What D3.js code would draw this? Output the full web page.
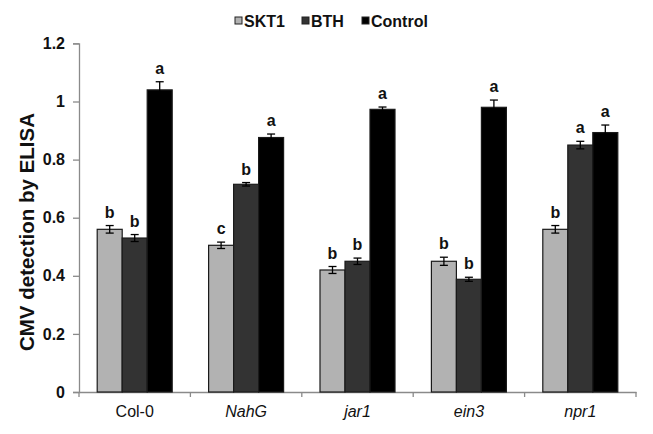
<!DOCTYPE html>
<html><head><meta charset="utf-8">
<script src="https://cdn.jsdelivr.net/npm/d3@7"></script>
<style>body{margin:0;background:#fff}svg{display:block}</style>
</head><body>
<svg id="c" width="653" height="434"></svg>
<script>
const categories = ["Col-0","NahG","jar1","ein3","npr1"];
const italicCats = [false,true,true,true,true];
const seriesNames = ["SKT1","BTH","Control"];
const skt1 = [0.56,0.505,0.42,0.45,0.56];
const bth = [0.53,0.715,0.45,0.388,0.85];
const control = [1.04,0.876,0.973,0.98,0.893];
const skt1Err = [0.013,0.011,0.012,0.014,0.013];
const bthErr = [0.012,0.006,0.011,0.007,0.013];
const controlErr = [0.028,0.012,0.008,0.025,0.026];
const skt1Letters = ["b","c","b","b","b"];
const bthLetters = ["b","b","b","b","a"];
const controlLetters = ["a","a","a","a","a"];
const yTicks = [0,0.2,0.4,0.6,0.8,1,1.2];
const colors = ["#b2b2b2","#333333","#000000"];

(function(){
const values = [skt1,bth,control];
const errs = [skt1Err,bthErr,controlErr];
const letters = [skt1Letters,bthLetters,controlLetters];

const svg = d3.select("#c");
const mLeft = 79, mRight = 636, mTop = 43.4, mBottom = 392;
const x0 = d3.scaleBand().domain(categories).range([mLeft,mRight]).paddingInner(0).paddingOuter(0);
const groupW = 75;
const x1 = d3.scaleBand().domain(seriesNames).range([0,groupW]);
const y = d3.scaleLinear().domain([0,1.2]).range([mBottom,mTop]);
const FONT = "Liberation Sans, Arial, sans-serif";

// y axis
const yAxis = svg.append("g").attr("transform",`translate(${mLeft},0)`)
  .call(d3.axisLeft(y).tickValues(yTicks).tickSize(6).tickPadding(8).tickFormat(d=>d3.format("~g")(d)));
yAxis.select(".domain").attr("stroke","#8a8a8a").attr("stroke-width",1.3);
yAxis.selectAll(".tick line").attr("stroke","#8a8a8a").attr("stroke-width",1.3);
yAxis.selectAll(".tick text").attr("font-family",FONT)
  .attr("font-size",16).attr("font-weight","bold").attr("fill","#111");

// x axis
const xAxis = svg.append("g").attr("transform",`translate(0,${mBottom})`)
  .call(d3.axisBottom(x0).tickSizeOuter(0).tickSize(0).tickPadding(14));
xAxis.select(".domain").attr("stroke","#8a8a8a").attr("stroke-width",1.3);
xAxis.selectAll(".tick text").attr("font-family",FONT)
  .attr("font-size",16).attr("fill","#111")
  .attr("font-style",(d,i)=>italicCats[i]?"italic":"normal");
const bounds = categories.map(c=>x0(c)).concat([x0(categories[categories.length-1])+x0.bandwidth()]);
svg.append("g").selectAll("line").data(bounds).join("line")
  .attr("x1",d=>d).attr("x2",d=>d).attr("y1",mBottom).attr("y2",mBottom+5)
  .attr("stroke","#8a8a8a").attr("stroke-width",1.3);

// bars
const groups = svg.append("g").selectAll("g").data(categories).join("g")
  .attr("transform",c=>`translate(${x0(c)+(x0.bandwidth()-groupW)/2},0)`);
seriesNames.forEach((s,si)=>{
  groups.append("rect")
    .attr("x",x1(s)).attr("width",x1.bandwidth())
    .attr("y",(c,i)=>y(values[si][i])).attr("height",(c,i)=>mBottom-y(values[si][i]))
    .attr("fill",colors[si]).attr("stroke","#1a1a1a").attr("stroke-width",1.2);
  const cx = x1(s)+x1.bandwidth()/2;
  const eb = groups.append("g").attr("stroke","#000").attr("stroke-width",1.3);
  eb.append("line").attr("x1",cx).attr("x2",cx)
    .attr("y1",(c,i)=>y(values[si][i]+errs[si][i])).attr("y2",(c,i)=>y(values[si][i]-errs[si][i]));
  eb.append("line").attr("x1",cx-4).attr("x2",cx+4)
    .attr("y1",(c,i)=>y(values[si][i]+errs[si][i])).attr("y2",(c,i)=>y(values[si][i]+errs[si][i]));
  eb.append("line").attr("x1",cx-4).attr("x2",cx+4)
    .attr("y1",(c,i)=>y(values[si][i]-errs[si][i])).attr("y2",(c,i)=>y(values[si][i]-errs[si][i]));
  groups.append("text").attr("x",cx)
    .attr("y",(c,i)=>y(values[si][i]+errs[si][i])-8)
    .attr("text-anchor","middle").attr("font-family",FONT)
    .attr("font-size",16).attr("font-weight","bold").attr("fill","#111")
    .text((c,i)=>letters[si][i]);
});

// y title
svg.append("text").attr("transform","translate(34,232) rotate(-90)")
  .attr("text-anchor","middle").attr("font-family",FONT)
  .attr("font-size",20.5).attr("font-weight","bold").attr("fill","#111")
  .text("CMV detection by ELISA");

// legend
const legX = [235,302,362];
const leg = svg.append("g").selectAll("g").data(seriesNames).join("g")
  .attr("transform",(d,i)=>`translate(${legX[i]},17)`);
leg.append("rect").attr("width",7).attr("height",7).attr("fill",(d,i)=>colors[i])
  .attr("stroke","#222").attr("stroke-width",1);
leg.append("text").attr("x",9).attr("y",9.5).attr("font-family",FONT)
  .attr("font-size",16).attr("font-weight","bold").attr("fill","#111").text(d=>d);
})();
</script>
</body></html>
